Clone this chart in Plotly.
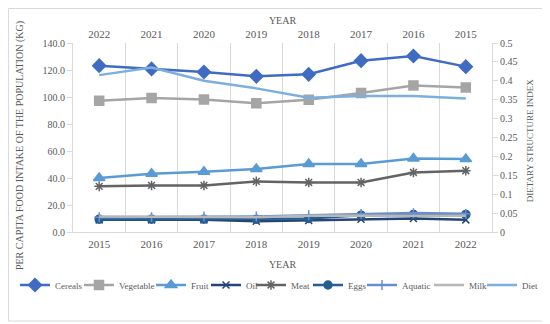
import plotly.graph_objects as go

years = ["2015", "2016", "2017", "2018", "2019", "2020", "2021", "2022"]
years_top = ["2022", "2021", "2020", "2019", "2018", "2017", "2016", "2015"]

cereals = [123.2, 120.8, 118.5, 115.3, 116.8, 126.9, 130.4, 122.5]
vegetable = [97.3, 99.3, 98.2, 95.3, 98.0, 103.0, 108.6, 107.1]
fruit = [40.0, 43.2, 44.7, 46.7, 50.4, 50.4, 54.5, 54.0]
oil = [9.0, 9.0, 9.0, 8.0, 8.5, 9.5, 10.0, 9.0]
meat = [33.8, 34.5, 34.5, 37.5, 36.7, 36.7, 44.1, 45.4]
eggs = [9.5, 9.5, 9.5, 9.5, 10.0, 12.5, 13.0, 13.0]
aquatic = [11.0, 11.0, 11.5, 11.5, 12.5, 13.5, 14.0, 13.5]
milk = [11.5, 11.5, 11.5, 11.0, 12.0, 12.0, 12.5, 12.0]
diet = [0.353, 0.360, 0.360, 0.355, 0.380, 0.400, 0.435, 0.415]

left_ticks = [0, 20, 40, 60, 80, 100, 120, 140]
right_ticks = [0, 0.05, 0.1, 0.15, 0.2, 0.25, 0.3, 0.35, 0.4, 0.45, 0.5]
right_labels = ["0", "0.05", "0.1", "0.15", "0.2", "0.25", "0.3", "0.35", "0.4", "0.45", "0.5"]

FONT = "Times New Roman, Liberation Serif, DejaVu Serif, serif"
TXT = "#595959"

W, H = 542, 316  # page adds an 8px body margin; keep figure inside the window

series = [
    ("Cereals", cereals, "#3F6CC2", "diamond", 10),
    ("Vegetable", vegetable, "#A5A5A5", "square", 9),
    ("Fruit", fruit, "#5B9BD5", "triangle-up", 10),
    ("Oil", oil, "#264478", "x-thin", 7),
    ("Meat", meat, "#636363", "asterisk", 8),
    ("Eggs", eggs, "#255E91", "circle", 8),
    ("Aquatic", aquatic, "#698ED0", "cross-thin", 7),
    ("Milk", milk, "#B7B7B7", None, 0),
]

# legend entry left positions (figure px) for the single-row legend
legend_x = [7, 71, 143, 198, 243, 300, 354, 421, 474]
legend_names = ["legend"] + ["legend%d" % i for i in range(2, 10)]

fig = go.Figure()
for i, (name, vals, col, sym, sz) in enumerate(series):
    if sym is None:
        fig.add_trace(go.Scatter(x=years, y=vals, name=name, mode="lines",
                                 legend=legend_names[i],
                                 line=dict(color=col, width=2.5)))
    else:
        fig.add_trace(go.Scatter(x=years, y=vals, name=name, mode="lines+markers",
                                 legend=legend_names[i],
                                 line=dict(color=col, width=2.5),
                                 marker=dict(symbol=sym, size=sz, color=col,
                                             line=dict(color=col, width=1.5))))

fig.add_trace(go.Scatter(x=years, y=diet, name="Diet", mode="lines",
                         xaxis="x2", yaxis="y2", legend=legend_names[8],
                         line=dict(color="#7CAFDD", width=2.5)))

legend_defs = {}
for i, ln in enumerate(legend_names):
    legend_defs[ln] = dict(orientation="h", xref="container", yref="container",
                           x=legend_x[i] / W, xanchor="left",
                           y=(H - 277) / H, yanchor="middle",
                           font=dict(family=FONT, size=9, color=TXT),
                           itemwidth=30, bgcolor="rgba(0,0,0,0)", borderwidth=0)

fig.update_layout(
    width=W, height=H,
    margin=dict(l=65, r=58, t=35, b=92),
    paper_bgcolor="white", plot_bgcolor="white",
    font=dict(family=FONT, size=10, color=TXT),
    showlegend=True,
    xaxis=dict(type="category", categoryorder="array", categoryarray=years,
               range=[-0.5, 7.5], tickson="boundaries", showgrid=False, ticks="",
               showline=True, linecolor="#D9D9D9", linewidth=1, automargin=False,
               ticklabelstandoff=2,
               tickfont=dict(family=FONT, size=11, color=TXT),
               title=dict(text="YEAR", font=dict(family=FONT, size=10, color=TXT), standoff=19)),
    xaxis2=dict(type="category", categoryorder="array", categoryarray=years_top,
                range=[-0.5, 7.5], overlaying="x", side="top", tickson="boundaries",
                showgrid=True, gridcolor="#D9D9D9", ticks="", showline=False,
                ticklabelstandoff=2, automargin=False,
                tickfont=dict(family=FONT, size=11, color=TXT),
                title=dict(text="YEAR", font=dict(family=FONT, size=10, color=TXT), standoff=1)),
    yaxis=dict(range=[0, 140], tickvals=left_ticks, tickformat=".1f",
               showgrid=False, showline=True, linecolor="#D9D9D9", ticks="outside",
               ticklen=5, tickcolor="#D9D9D9", zeroline=False, automargin=False,
               tickfont=dict(family=FONT, size=10, color=TXT)),
    yaxis2=dict(range=[0, 0.5], tickvals=right_ticks, ticktext=right_labels,
                overlaying="y", side="right", automargin=False,
                showgrid=False, showline=True, linecolor="#D9D9D9", ticks="outside",
                ticklen=5, tickcolor="#D9D9D9", zeroline=False,
                tickfont=dict(family=FONT, size=10, color=TXT)),
    annotations=[
        dict(text="PER CAPITA FOOD INTAKE OF THE POPULATION (KG)", xref="paper", yref="paper",
             x=-0.1265, y=0.46, textangle=-90, showarrow=False,
             font=dict(family=FONT, size=10, color=TXT), xanchor="center", yanchor="middle"),
        dict(text="DIETARY STRUCTURE INDEX", xref="paper", yref="paper",
             x=1.0907, y=0.48, textangle=-90, showarrow=False,
             font=dict(family=FONT, size=9, color=TXT), xanchor="center", yanchor="middle"),
    ],
    shapes=[dict(type="rect", xref="paper", yref="paper", x0=-0.154, x1=1.1265,
                 y0=-0.471, y1=1.1825, line=dict(color="#D9D9D9", width=1), layer="below")],
    **legend_defs,
)

fig.write_html("out.html")
